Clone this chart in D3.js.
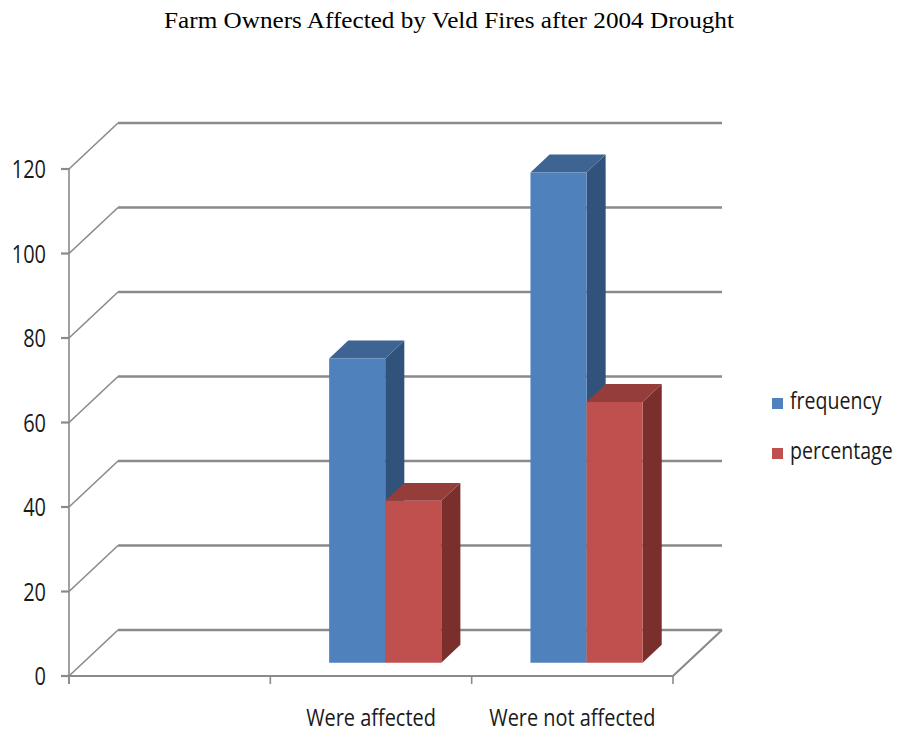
<!DOCTYPE html>
<html>
<head>
<meta charset="utf-8">
<script src="https://cdn.jsdelivr.net/npm/d3@7"></script>
<style>
  html, body { margin: 0; padding: 0; background: #ffffff; }
  svg { display: block; }
</style>
</head>
<body>
<svg id="chart" width="899" height="733"></svg>
<script>
// Chart data
const categories = ["", "Were affected", "Were not affected"];
const seriesNames = ["frequency", "percentage"];
const frequency = [null, 72, 116];
const percentage = [null, 38.3, 61.7];
const yTicks = [0, 20, 40, 60, 80, 100, 120];
const titleText = "Farm Owners Affected by Veld Fires after 2004 Drought";

const seriesValues = [frequency, percentage];
const faceColors = [
  { front: "#4F81BD", top: "#3D6493", side: "#31527A" },
  { front: "#C0504D", top: "#943D3A", side: "#7A2F2D" }
];

const svg = d3.select("#chart");

// 3D frame: front plane, plus an oblique depth offset for the back wall
const frontLeft = 69, frontRight = 673;
const depthX = 49, depthY = -46;
const y = d3.scaleLinear().domain([0, 120]).range([676, 169]);
const x = d3.scaleBand().domain(categories).range([frontLeft, frontRight])
  .paddingInner(0.443).paddingOuter(0.2215);
const xs = d3.scaleBand().domain(seriesNames).range([0, x.bandwidth()]);
const zFront = 0.29, zBack = 0.68;

const proj = (px, py, z) => [px + depthX * z, py + depthY * z];
const line = d3.line();

// Condensed sans text helper
function label(g, txt, px, py, size, anchor, sx) {
  return g.append("text")
    .attr("transform", `translate(${px},${py}) scale(${sx},1)`)
    .attr("text-anchor", anchor)
    .attr("font-family", "'Open Sans', sans-serif")
    .attr("font-size", size)
    .attr("fill", "#1a1a1a")
    .text(txt);
}

// Title
svg.append("text")
  .attr("transform", `translate(449,28) scale(1.05,1)`)
  .attr("text-anchor", "middle")
  .attr("font-family", "'Liberation Serif', 'Times New Roman', serif")
  .attr("font-size", 24)
  .attr("fill", "#000")
  .text(titleText);

const grid = svg.append("g");
const gridColor = "#8a8a8a";

// Back-wall gridlines and side-wall diagonals
yTicks.forEach(t => {
  const f = [frontLeft, y(t)];
  const b = proj(frontLeft, y(t), 1);
  const br = proj(frontRight, y(t), 1);
  grid.append("path").attr("d", line([b, br]))
    .attr("stroke", gridColor).attr("stroke-width", 2.6).attr("fill", "none");
  grid.append("path").attr("d", line([f, b]))
    .attr("stroke", gridColor).attr("stroke-width", 1.6).attr("fill", "none");
});

// Floor: front edge and right edge
grid.append("path")
  .attr("d", line([[frontLeft, y(0)], [frontRight, y(0)], proj(frontRight, y(0), 1)]))
  .attr("stroke", gridColor).attr("stroke-width", 2.2).attr("fill", "none");

// Vertical value axis with ticks
grid.append("path").attr("d", line([[frontLeft, y(120)], [frontLeft, y(0) + 8]]))
  .attr("stroke", gridColor).attr("stroke-width", 1.6).attr("fill", "none");
yTicks.forEach(t => {
  grid.append("path").attr("d", line([[frontLeft - 8, y(t)], [frontLeft, y(t)]]))
    .attr("stroke", gridColor).attr("stroke-width", 2.2).attr("fill", "none");
});

// Category ticks along the floor front edge
const catEdges = categories.map(c => x(c) - x.step() * x.paddingInner() / 2)
  .concat([frontRight]);
catEdges.forEach(px => {
  grid.append("path").attr("d", line([[px, y(0)], [px, y(0) + 8]]))
    .attr("stroke", gridColor).attr("stroke-width", 1.6).attr("fill", "none");
});

// Bars
const bars = svg.append("g");
categories.forEach((cat, ci) => {
  seriesNames.forEach((s, si) => {
    const v = seriesValues[si][ci];
    if (v == null) return;
    const x0 = x(cat) + xs(s), x1 = x0 + xs.bandwidth();
    const yt = y(v), yb = y(0);
    const col = faceColors[si];
    const ftl = proj(x0, yt, zFront), ftr = proj(x1, yt, zFront);
    const fbr = proj(x1, yb, zFront), fbl = proj(x0, yb, zFront);
    const btl = proj(x0, yt, zBack), btr = proj(x1, yt, zBack);
    const bbr = proj(x1, yb, zBack);
    bars.append("path").attr("d", line([ftr, btr, bbr, fbr]) + "Z").attr("fill", col.side);
    bars.append("path").attr("d", line([ftl, ftr, btr, btl]) + "Z").attr("fill", col.top);
    bars.append("path").attr("d", line([ftl, ftr, fbr, fbl]) + "Z").attr("fill", col.front);
  });
});

// Value axis labels
const labels = svg.append("g");
yTicks.forEach(t => {
  label(labels, t, 46, y(t) + 9, 25, "end", 0.8);
});

// Category labels
categories.forEach(c => {
  if (!c) return;
  label(labels, c, x(c) + x.bandwidth() / 2, 726, 24, "middle", 0.83);
});

// Legend
const legend = svg.append("g");
seriesNames.forEach((s, i) => {
  const ly = 398 + i * 50;
  legend.append("rect").attr("x", 772).attr("y", ly).attr("width", 11).attr("height", 11)
    .attr("fill", faceColors[i].front);
  label(legend, s, 790, ly + 11, 23, "start", 0.85);
});
</script>
</body>
</html>
